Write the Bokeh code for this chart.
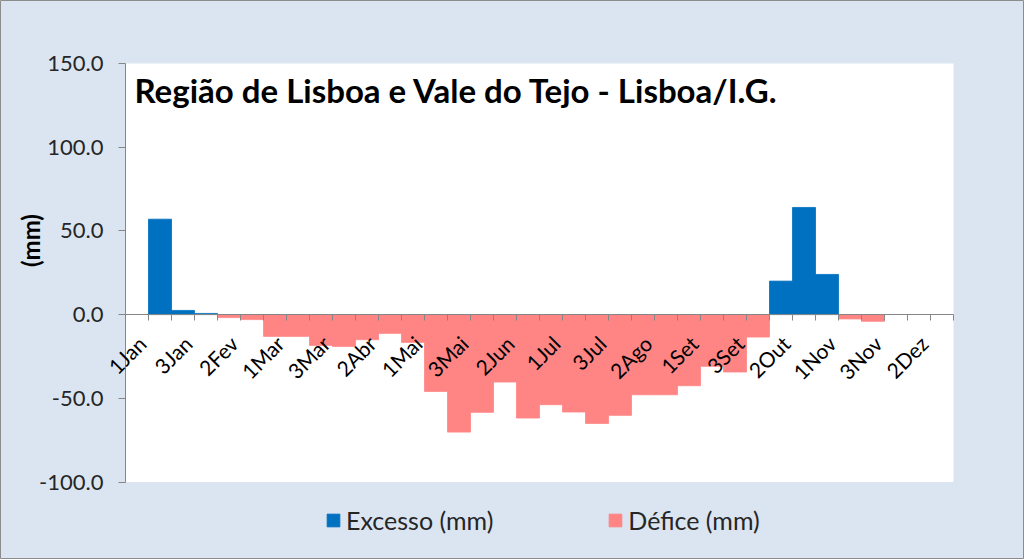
from math import pi
from bokeh.plotting import figure
from bokeh.models import (Range1d, LinearAxis, FixedTicker, NumeralTickFormatter,
                          Label, LabelSet, Legend, LegendItem, BoxAnnotation,
                          ColumnDataSource)
from bokeh.core.properties import value
from bokeh.embed import file_html
from bokeh.resources import INLINE

# ---- data ----
decades = ["1Jan", "2Jan", "3Jan", "1Fev", "2Fev", "3Fev", "1Mar", "2Mar", "3Mar",
           "1Abr", "2Abr", "3Abr", "1Mai", "2Mai", "3Mai", "1Jun", "2Jun", "3Jun",
           "1Jul", "2Jul", "3Jul", "1Ago", "2Ago", "3Ago", "1Set", "2Set", "3Set",
           "1Out", "2Out", "3Out", "1Nov", "2Nov", "3Nov", "1Dez", "2Dez", "3Dez"]
excesso = [0, 57.0, 2.5, 0.7, 0, 0, 0, 0, 0,
           0, 0, 0, 0, 0, 0, 0, 0, 0,
           0, 0, 0, 0, 0, 0, 0, 0, 0,
           0, 20.0, 64.0, 24.0, 0, 0, 0, 0, 0]
defice = [0, 0, 0, 0, -1.8, -3.0, -13.0, -13.0, -18.4,
          -19.0, -15.0, -11.2, -16.6, -45.9, -70.2, -58.4, -40.3, -61.8,
          -53.8, -58.2, -65.0, -60.2, -47.9, -47.9, -42.5, -30.9, -34.3,
          -13.4, 0, 0, 0, -2.6, -4.0, 0, 0, 0]
y_ticks = [-100, -50, 0, 50, 100, 150]
title_text = "Região de Lisboa e Vale do Tejo - Lisboa/I.G."
y_label = "(mm)"
series_names = ["Excesso (mm)", "Défice (mm)"]

# ---- layout constants (pixels) ----
W, H = 1024, 559
PX_LEFT, PX_RIGHT = 125, 953      # plot area horizontal extent
PX_TOP, PX_BOTTOM = 63, 481.5     # plot area vertical extent
n = len(decades)
ppx = (PX_RIGHT - PX_LEFT) / n
ppy = (PX_BOTTOM - PX_TOP) / (y_ticks[-1] - y_ticks[0])
x0, x1 = -0.5 - PX_LEFT / ppx, -0.5 + (W - PX_LEFT) / ppx
y1, y0 = y_ticks[-1] + PX_TOP / ppy, y_ticks[0] - (H - PX_BOTTOM) / ppy

FONT = "Lato"
GRAY = "#868686"
BG = "#DBE5F1"
BLUE = "#0070C0"
PINK = "#FF8585"

p = figure(width=W, height=H, output_backend="svg", toolbar_location=None,
           x_range=Range1d(x0, x1), y_range=Range1d(y0, y1),
           x_axis_location=None, y_axis_location=None,
           min_border=0, min_border_left=0, min_border_right=0,
           min_border_top=0, min_border_bottom=0)
p.background_fill_color = BG
p.border_fill_color = BG
p.outline_line_color = "#8c8c8c"
p.xgrid.visible = False
p.ygrid.visible = False

# white plot area
p.add_layout(BoxAnnotation(left=-0.5, right=n - 0.5, bottom=y_ticks[0], top=y_ticks[-1],
                           fill_color="white", fill_alpha=1.0, line_color=None,
                           level="underlay"))

exc_x = [i for i, v in enumerate(excesso) if v != 0]
exc_v = [excesso[i] for i in exc_x]
def_x = [i for i, v in enumerate(defice) if v != 0]
def_v = [defice[i] for i in def_x]

r_exc = p.vbar(x=exc_x, top=exc_v, bottom=0, width=1.0,
               fill_color=BLUE, line_color=BLUE, line_width=0.8)
r_def = p.vbar(x=def_x, top=def_v, bottom=0, width=1.0,
               fill_color=PINK, line_color=PINK, line_width=0.8)

# y axis at the left edge of the plot area
yax = LinearAxis(fixed_location=-0.5, bounds=(y_ticks[0], y_ticks[-1]),
                 ticker=FixedTicker(ticks=y_ticks), formatter=NumeralTickFormatter(format="0.0"),
                 major_label_text_font=FONT, major_label_text_font_size="22px",
                 major_label_text_color="#262626", major_label_standoff=15,
                 axis_line_color=GRAY, major_tick_line_color=GRAY,
                 major_tick_out=7, major_tick_in=0, minor_tick_line_color=None)
p.add_layout(yax, "left")

# x axis line with ticks at category boundaries, fixed at zero
xticks_ax = LinearAxis(fixed_location=0, bounds=(-0.5, n - 0.5),
                       ticker=FixedTicker(ticks=[i - 0.5 for i in range(n + 1)]),
                       major_label_text_alpha=0,
                       axis_line_color=GRAY, major_tick_line_color=GRAY,
                       major_tick_out=6, major_tick_in=0, minor_tick_line_color=None)
p.add_layout(xticks_ax, "below")

# category labels, every other decade, rotated 45 degrees under the zero line
shown = list(range(0, n, 2))
lab_src = ColumnDataSource(dict(x=shown, y=[0] * len(shown), text=[decades[i] for i in shown]))
p.add_layout(LabelSet(x="x", y="y", text="text", source=lab_src,
                      angle=45, angle_units="deg", text_align="right", text_baseline="alphabetic",
                      x_offset=11, y_offset=-31, text_font=value(FONT),
                      text_font_size=value("21px"), text_color=value("#000000")))

# y axis title
p.add_layout(Label(x=-0.5 + (30 - PX_LEFT) / ppx, y=y_ticks[-1] - (240 - PX_TOP) / ppy,
                   text=y_label, angle=pi / 2, text_align="center", text_baseline="middle",
                   text_font=FONT, text_font_style="bold", text_font_size="24px",
                   text_color="#000000"))

# chart title inside the plot area
p.add_layout(Label(x=-0.5, y=y_ticks[-1], x_offset=9, y_offset=-26, text=title_text,
                   text_font=FONT, text_font_style="bold", text_font_size="33px",
                   text_color="#000000", text_baseline="alphabetic"))

legend = Legend(items=[LegendItem(label=series_names[0], renderers=[r_exc]),
                       LegendItem(label=series_names[1], renderers=[r_def])],
                orientation="horizontal", location=(325, 24),
                label_text_font=FONT, label_text_font_size="25px", label_text_color="#262626",
                glyph_width=16, glyph_height=16, label_standoff=5, spacing=114,
                background_fill_alpha=0, border_line_color=None, margin=0, padding=2)
p.add_layout(legend, "center")

open("out.html", "w").write(file_html(p, INLINE))
